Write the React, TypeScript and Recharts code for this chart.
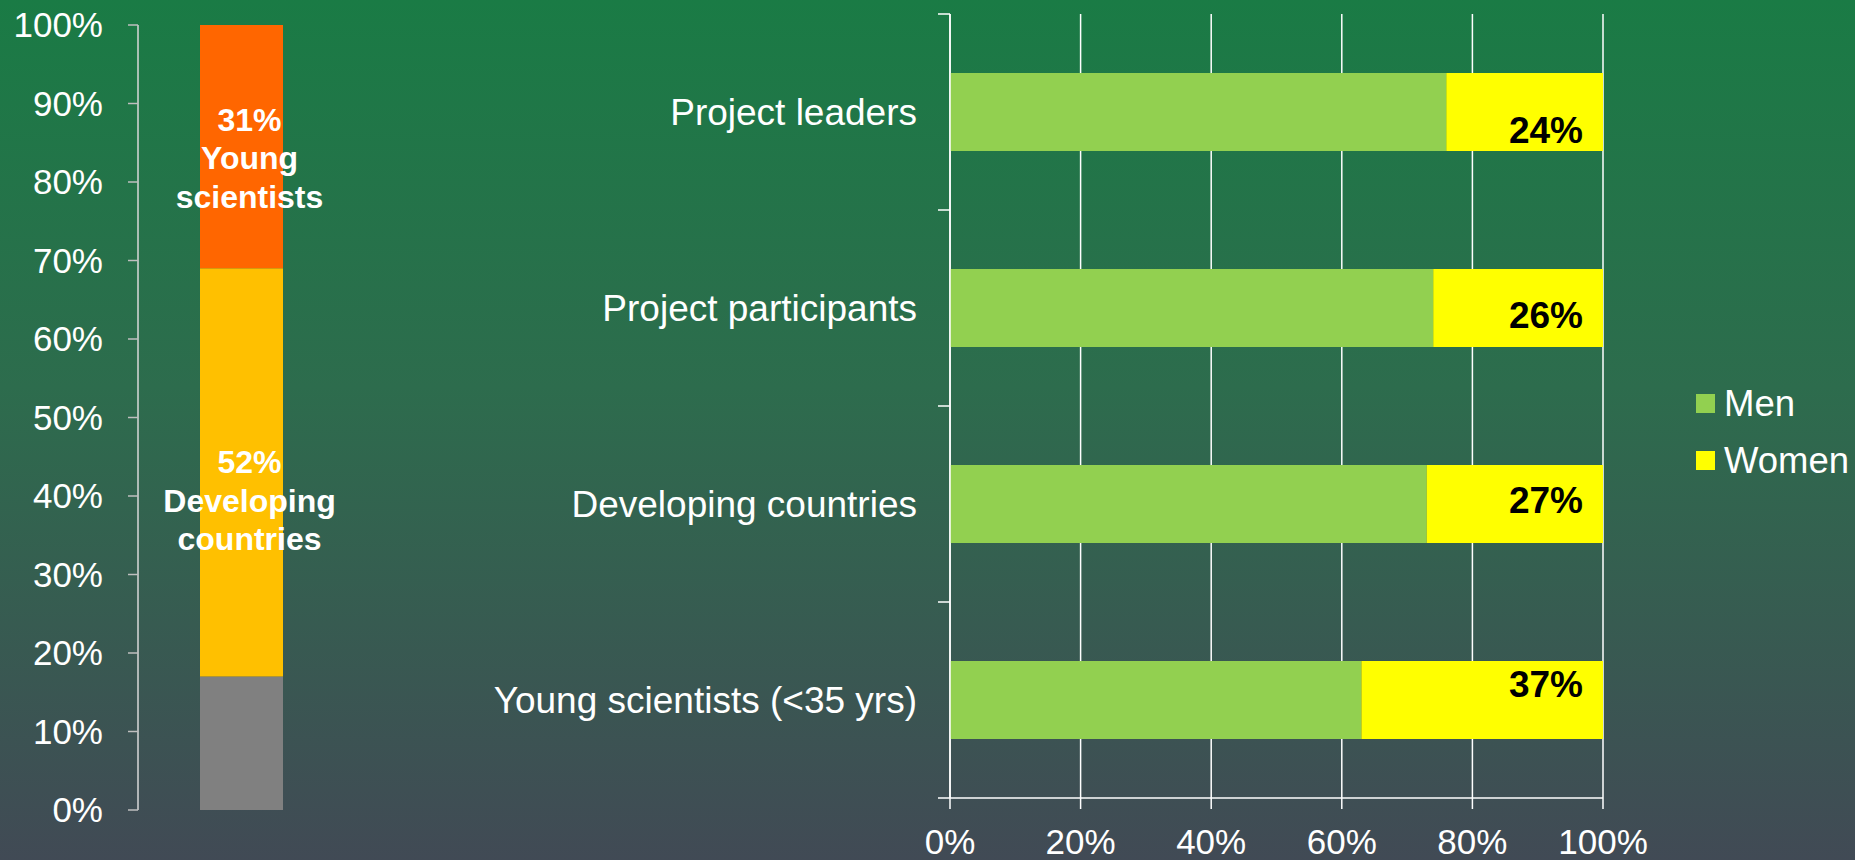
import { BarChart, Bar, XAxis, YAxis, CartesianGrid, LabelList } from 'recharts';

// left chart: share of all participants
const groupNames = ['Other', 'Developing countries', 'Young scientists'];
const groupShares = [0.17, 0.52, 0.31];
const groupLabelLines = [[], ['Developing', 'countries'], ['Young', 'scientists']];
const groupColors = ['#808080', '#ffc000', '#ff6600'];
const leftTicks = [0, 0.1, 0.2, 0.3, 0.4, 0.5, 0.6, 0.7, 0.8, 0.9, 1];

// right chart: gender split
const categories = ['Project leaders', 'Project participants', 'Developing countries', 'Young scientists (<35 yrs)'];
const menShare = [0.76, 0.74, 0.73, 0.63];
const womenShare = [0.24, 0.26, 0.27, 0.37];
const seriesNames = ['Men', 'Women'];
const seriesColors = ['#92d050', '#ffff00'];
const rightTicks = [0, 0.2, 0.4, 0.6, 0.8, 1];

const FONT = '"Liberation Sans", Arial, sans-serif';
const pct = (v: number) => `${Math.round(v * 100)}%`;

const leftData = [
  groupNames.reduce((row: any, n, i) => ({ ...row, [n]: groupShares[i] }), { name: 'All' }),
];
const rightData = categories.map((name, i) => ({ name, men: menShare[i], women: womenShare[i] }));

const RIGHT_TOP = 14;
const RIGHT_XAXIS_H = 62;
const BAND = (860 - RIGHT_TOP - RIGHT_XAXIS_H) / categories.length;
// hand-placed baselines of the women labels, relative to bar centre
const womenLabelDy = [31, 20, 9, -3];
// first-line baseline of the left labels, relative to segment centre
const groupLabelDy = [0, 1, -16];

function GroupLabel(idx: number) {
  return (props: any) => {
    const { x, y, width, height, value } = props;
    const lines = [pct(value), ...groupLabelLines[idx]];
    const cx = x + width / 2 + 8;
    const cy = y + height / 2 + groupLabelDy[idx];
    return (
      <text x={cx} y={cy} textAnchor="middle" fill="#fff" fontFamily={FONT} fontWeight="bold" fontSize={32}>
        {lines.map((l, i) => (
          <tspan key={i} x={cx} y={cy + i * 38.5}>{l}</tspan>
        ))}
      </text>
    );
  };
}

function WomenLabel(props: any) {
  const { x, y, width, height, value, index } = props;
  return (
    <text x={x + width - 20} y={y + height / 2 + womenLabelDy[index]} textAnchor="end" fill="#000"
      fontFamily={FONT} fontWeight="bold" fontSize={37}>
      {pct(value)}
    </text>
  );
}

function CategoryTick(props: any) {
  const { x, y, payload, index } = props;
  const axisX = x + 33;
  return (
    <g>
      <text x={x} y={y} dy="0.355em" textAnchor="end" fill="#fff" fontFamily={FONT} fontSize={37}>
        {payload.value}
      </text>
      <line x1={axisX - 12} x2={axisX} y1={y - BAND / 2} y2={y - BAND / 2} stroke="#fff" strokeWidth={1.5} />
      {index === categories.length - 1 && (
        <line x1={axisX - 12} x2={axisX} y1={y + BAND / 2} y2={y + BAND / 2} stroke="#fff" strokeWidth={1.5} />
      )}
    </g>
  );
}

export default function App() {
  return (
    <div
      style={{
        position: 'absolute',
        left: 0,
        top: 0,
        width: 1855,
        height: 860,
        overflow: 'hidden',
        background: 'linear-gradient(to bottom, #1a7b45 0%, #2d6c4d 45%, #414a55 100%)',
        fontFamily: FONT,
      }}
    >
      <div style={{ position: 'absolute', left: 0, top: 0 }}>
        <BarChart width={400} height={860} data={leftData} margin={{ top: 25, right: 55, bottom: 50, left: 0 }}>
          <XAxis dataKey="name" type="category" hide />
          <YAxis
            type="number"
            domain={[0, 1]}
            ticks={leftTicks}
            tickFormatter={pct}
            width={138}
            tickSize={10}
            tickMargin={25}
            axisLine={{ stroke: '#d9d9d9', strokeWidth: 1.5 }}
            tickLine={{ stroke: '#bfbfbf', strokeWidth: 1.5 }}
            tick={{ fill: '#fff', fontSize: 35, fontFamily: FONT }}
          />
          {groupNames.map((n, i) => (
            <Bar key={n} dataKey={n} stackId="s" fill={groupColors[i]} barSize={83} isAnimationActive={false}>
              {i > 0 && <LabelList dataKey={n} content={GroupLabel(i)} />}
            </Bar>
          ))}
        </BarChart>
      </div>

      <div style={{ position: 'absolute', left: 420, top: 0 }}>
        <BarChart
          width={1435}
          height={860}
          data={rightData}
          layout="vertical"
          margin={{ top: RIGHT_TOP, right: 252, bottom: 0, left: 0 }}
        >
          <CartesianGrid horizontal={false} stroke="#fff" strokeWidth={1.5} />
          <XAxis
            type="number"
            domain={[0, 1]}
            ticks={rightTicks}
            tickFormatter={pct}
            height={RIGHT_XAXIS_H}
            tickSize={11}
            tickMargin={20}
            axisLine={{ stroke: '#fff', strokeWidth: 1.5 }}
            tickLine={{ stroke: '#fff', strokeWidth: 1.5 }}
            tick={{ fill: '#fff', fontSize: 35, fontFamily: FONT }}
          />
          <YAxis
            type="category"
            dataKey="name"
            width={530}
            tickSize={12}
            tickMargin={21}
            axisLine={{ stroke: '#fff', strokeWidth: 1.5 }}
            tickLine={false}
            tick={CategoryTick}
            interval={0}
          />
          <Bar dataKey="men" name={seriesNames[0]} stackId="g" fill={seriesColors[0]} barSize={78} isAnimationActive={false} />
          <Bar dataKey="women" name={seriesNames[1]} stackId="g" fill={seriesColors[1]} barSize={78} isAnimationActive={false}>
            <LabelList dataKey="women" content={WomenLabel} />
          </Bar>
        </BarChart>
      </div>

      <div style={{ position: 'absolute', left: 1696, top: 380 }}>
        {seriesNames.map((n, i) => (
          <div key={n} style={{ display: 'flex', alignItems: 'center', height: 47, marginBottom: 10 }}>
            <div style={{ width: 19, height: 19, background: seriesColors[i], marginRight: 9 }} />
            <span style={{ color: '#fff', fontSize: 36.5, lineHeight: '47px' }}>{n}</span>
          </div>
        ))}
      </div>
    </div>
  );
}
